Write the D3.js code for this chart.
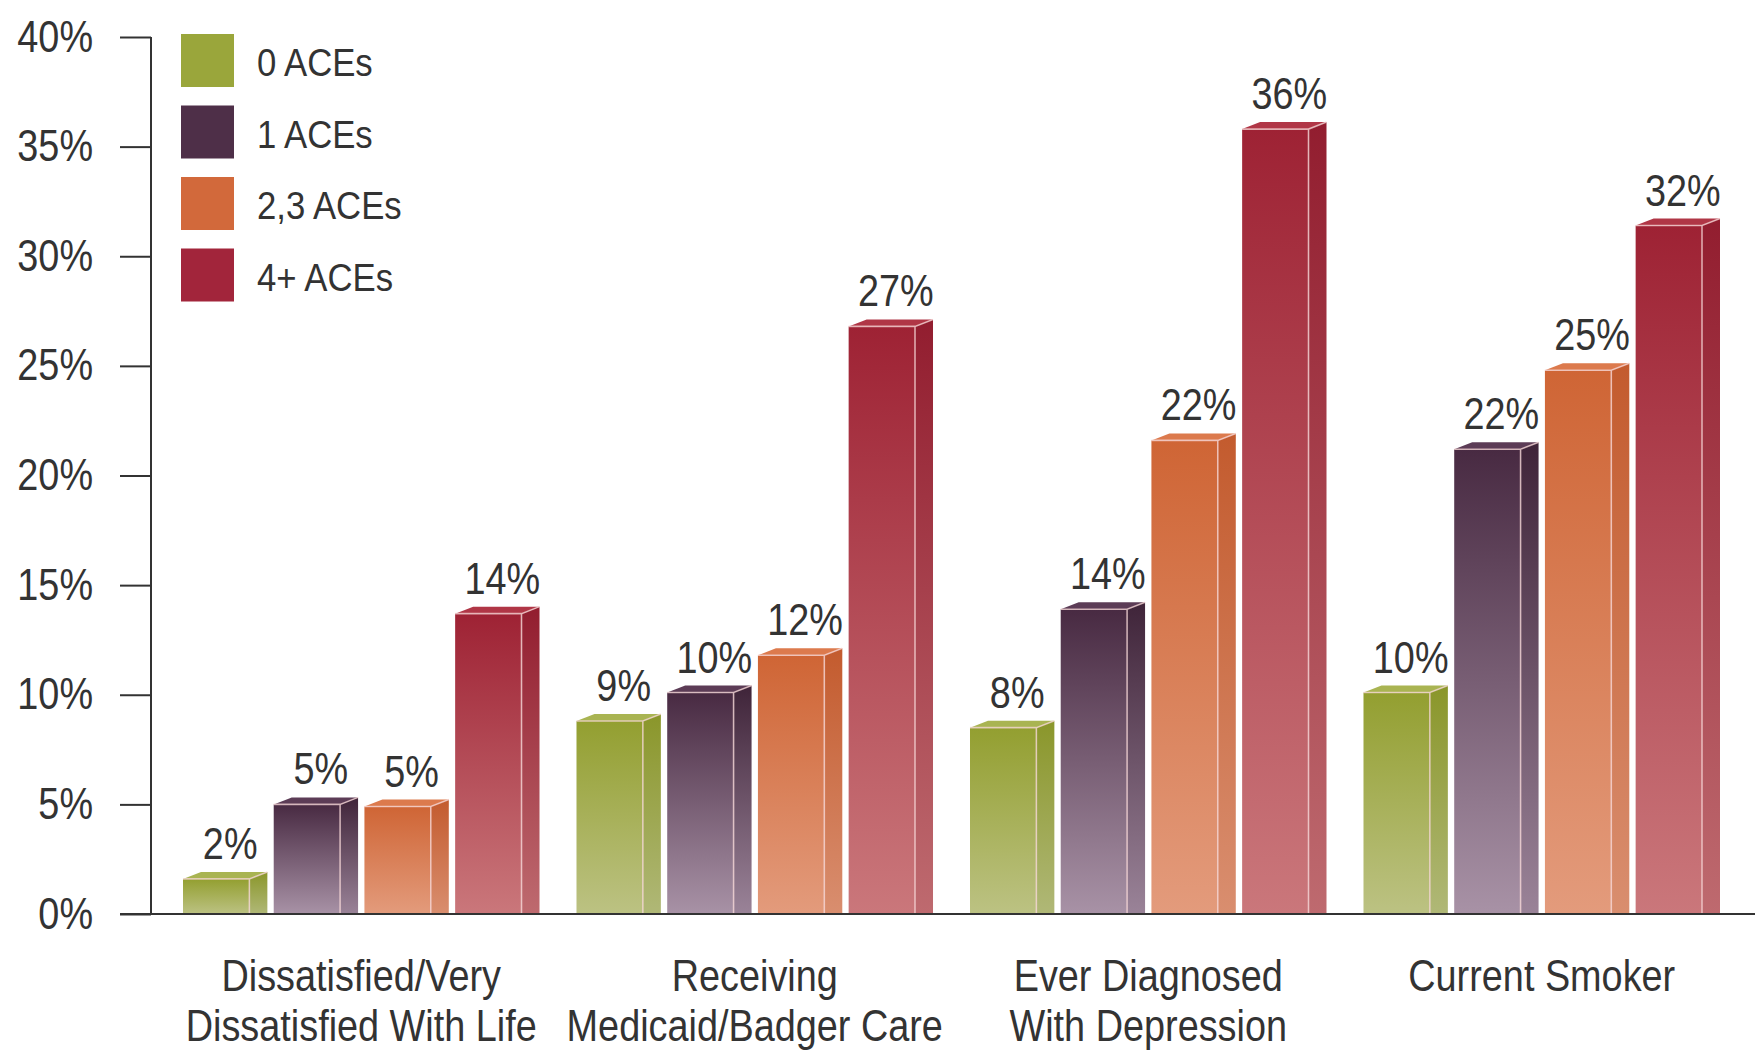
<!DOCTYPE html>
<html>
<head>
<meta charset="utf-8">
<script src="https://cdn.jsdelivr.net/npm/d3@7"></script>
<style>
  html, body { margin: 0; padding: 0; background: #fff; }
  text { font-family: "Liberation Sans Narrow", "Arial Narrow", "Liberation Sans", sans-serif; fill: #333; }
</style>
</head>
<body>
<div id="chart"></div>
<script>
const categories = [
  ['Dissatisfied/Very', 'Dissatisfied With Life'],
  ['Receiving', 'Medicaid/Badger Care'],
  ['Ever Diagnosed', 'With Depression'],
  ['Current Smoker']
];
const seriesNames = ['0 ACEs', '1 ACEs', '2,3 ACEs', '4+ ACEs'];

const aces0 = [1.6, 8.8, 8.5, 10.1];
const aces1 = [5.0, 10.1, 13.9, 21.2];
const aces23 = [4.9, 11.8, 21.6, 24.8];
const aces4 = [13.7, 26.8, 35.8, 31.4];

const labels0 = ['2%', '9%', '8%', '10%'];
const labels1 = ['5%', '10%', '14%', '22%'];
const labels23 = ['5%', '12%', '22%', '25%'];
const labels4 = ['14%', '27%', '36%', '32%'];

const yTicks = [0, 5, 10, 15, 20, 25, 30, 35, 40];

// colours: [legend, front top, front bottom, side top, side bottom, top face]
const palette = [
  ['#9aa63b', '#939f30', '#bcc283', '#8a962a', '#b0b877', '#a9b452'],
  ['#4e2f48', '#482a42', '#a892a6', '#3f2439', '#9a8398', '#5c3c56'],
  ['#d2693b', '#cf6535', '#e39b7c', '#c35b2e', '#d98e6f', '#dc7a4d'],
  ['#a2253b', '#9e2234', '#ca777b', '#921d2f', '#be6a6f', '#b03646']
];

const width = 1755;
const height = 1053;
const baseY = 914;
const topY = 37;
const axisX = 151;
const depthX = 18;
const depthY = 7;
const squeeze = 0.86; // the original uses a condensed face

const rows = categories.map((c, i) => ({
  cat: i,
  lines: c,
  values: [aces0[i], aces1[i], aces23[i], aces4[i]],
  labels: [labels0[i], labels1[i], labels23[i], labels4[i]]
}));

const svg = d3.select('#chart').append('svg')
  .attr('width', width)
  .attr('height', height);

const defs = svg.append('defs');

palette.forEach((p, i) => {
  const front = defs.append('linearGradient')
    .attr('id', `front${i}`)
    .attr('x1', 0).attr('y1', 0).attr('x2', 0).attr('y2', 1);
  front.append('stop').attr('offset', '0%').attr('stop-color', p[1]);
  front.append('stop').attr('offset', '100%').attr('stop-color', p[2]);

  const side = defs.append('linearGradient')
    .attr('id', `side${i}`)
    .attr('x1', 0).attr('y1', 0).attr('x2', 0).attr('y2', 1);
  side.append('stop').attr('offset', '0%').attr('stop-color', p[3]);
  side.append('stop').attr('offset', '100%').attr('stop-color', p[4]);
});

const y = d3.scaleLinear()
  .domain([0, 40])
  .range([baseY, topY]);

const x0 = d3.scaleBand()
  .domain(d3.range(categories.length))
  .range([183, 1720])
  .paddingInner(0.094);

const x1 = d3.scaleBand()
  .domain(d3.range(seriesNames.length))
  .range([0, x0.bandwidth()])
  .paddingInner(0.07);

const barW = x1.bandwidth();
const frontW = barW - depthX;

// bars
const group = svg.selectAll('g.cat')
  .data(rows)
  .enter()
  .append('g')
  .attr('class', 'cat')
  .attr('transform', d => `translate(${x0(d.cat)},0)`);

const bar = group.selectAll('g.bar')
  .data(d => d.values.map((v, s) => ({ v, s, label: d.labels[s] })))
  .enter()
  .append('g')
  .attr('class', 'bar')
  .attr('transform', d => `translate(${x1(d.s)},0)`);

bar.append('rect')
  .attr('x', 0)
  .attr('y', d => y(d.v))
  .attr('width', frontW)
  .attr('height', d => baseY - y(d.v))
  .attr('fill', d => `url(#front${d.s})`);

bar.append('path')
  .attr('d', d => {
    const t = y(d.v);
    return `M${frontW},${t} L${frontW + depthX},${t - depthY} L${frontW + depthX},${baseY} L${frontW},${baseY} Z`;
  })
  .attr('fill', d => `url(#side${d.s})`);

bar.append('path')
  .attr('d', d => {
    const t = y(d.v);
    return `M0,${t} L${depthX},${t - depthY} L${frontW + depthX},${t - depthY} L${frontW},${t} Z`;
  })
  .attr('fill', d => palette[d.s][5]);

// highlight edges
bar.append('path')
  .attr('d', d => {
    const t = y(d.v);
    return `M0,${t} L${frontW},${t} L${frontW + depthX},${t - depthY} M${frontW},${t} L${frontW},${baseY}`;
  })
  .attr('fill', 'none')
  .attr('stroke', '#f6d6d6')
  .attr('stroke-opacity', 0.75)
  .attr('stroke-width', 1.6);

bar.append('text')
  .attr('transform', d => `translate(${barW / 2 + 5},${y(d.v) - depthY - 13}) scale(${squeeze},1)`)
  .attr('text-anchor', 'middle')
  .style('font-size', '44px')
  .text(d => d.label);

// axes
const yAxis = d3.axisLeft(y)
  .tickValues(yTicks)
  .tickSize(31)
  .tickPadding(27)
  .tickFormat(d => `${d}%`);

const gy = svg.append('g')
  .attr('transform', `translate(${axisX},0)`)
  .call(yAxis);

gy.select('.domain').remove();
gy.selectAll('line').attr('stroke', '#333').attr('stroke-width', 2);
gy.selectAll('text')
  .attr('x', -58 / squeeze)
  .attr('transform', `scale(${squeeze},1)`)
  .style('font-size', '44px')
  .style('font-family', '"Liberation Sans Narrow", "Arial Narrow", "Liberation Sans", sans-serif')
  .attr('fill', '#333');

svg.append('line')
  .attr('x1', axisX).attr('x2', axisX)
  .attr('y1', y(40)).attr('y2', baseY)
  .attr('stroke', '#333')
  .attr('stroke-width', 2);

svg.append('line')
  .attr('x1', axisX - 31).attr('x2', width)
  .attr('y1', baseY).attr('y2', baseY)
  .attr('stroke', '#333')
  .attr('stroke-width', 2);

// category labels
const catLabel = svg.selectAll('text.cat')
  .data(rows)
  .enter()
  .append('text')
  .attr('class', 'cat')
  .attr('text-anchor', 'middle')
  .attr('transform', `scale(${squeeze},1)`)
  .style('font-size', '44px');

catLabel.selectAll('tspan')
  .data(d => d.lines.map(l => ({ l, cx: x0(d.cat) + x0.bandwidth() / 2 })))
  .enter()
  .append('tspan')
  .attr('x', d => d.cx / squeeze)
  .attr('y', (d, i) => 991 + i * 50)
  .text(d => d.l);

// legend
const legend = svg.selectAll('g.legend')
  .data(seriesNames)
  .enter()
  .append('g')
  .attr('class', 'legend')
  .attr('transform', (d, i) => `translate(181,${34 + i * 71.5})`);

legend.append('rect')
  .attr('width', 53)
  .attr('height', 53)
  .attr('fill', (d, i) => palette[i][0]);

legend.append('text')
  .attr('transform', `translate(76,42) scale(${squeeze + 0.03},1)`)
  .style('font-size', '39px')
  .text(d => d);
</script>
</body>
</html>
